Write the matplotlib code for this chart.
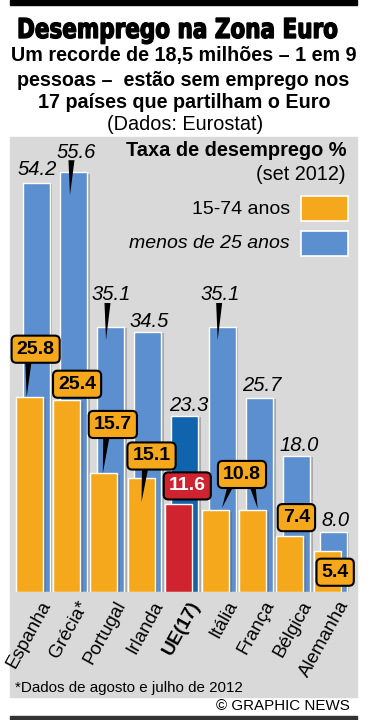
import matplotlib
matplotlib.use('Agg')
import numpy as np
import matplotlib.pyplot as plt
import matplotlib.patheffects as pe
from matplotlib.patches import Rectangle, Polygon, PathPatch
from matplotlib.textpath import TextPath
from matplotlib.font_manager import FontProperties
from matplotlib.transforms import Affine2D

plt.rcParams['font.family'] = ['Liberation Sans', 'DejaVu Sans']

# data (Eurostat, set 2012)
countries = ['Espanha', 'Grécia*', 'Portugal', 'Irlanda', 'UE(17)', 'Itália', 'França', 'Bélgica', 'Alemanha']
rate_15_74 = [25.8, 25.4, 15.7, 15.1, 11.6, 10.8, 10.8, 7.4, 5.4]
rate_under_25 = [54.2, 55.6, 35.1, 34.5, 23.3, 35.1, 25.7, 18.0, 8.0]
eu_index = 4

ORANGE = '#f6a81d'
BLUE = '#5b8fcf'
DARK_BLUE = '#1063ad'
RED = '#cf2330'
PANEL = '#d9d9d9'

W, H = 371, 720
fig = plt.figure(figsize=(W / 100, H / 100), dpi=100)

# background / pixel space
bg = fig.add_axes([0, 0, 1, 1])
bg.set_xlim(0, W)
bg.set_ylim(H, 0)
bg.axis('off')

bg.add_patch(Rectangle((10, 0), 347, 4.5, color='black'))
bg.add_patch(Rectangle((10, 137), 347, 560, color=PANEL))
bg.add_patch(Rectangle((10, 716), 347, 4, color='#333333'))

# condensed heavy title drawn as a squeezed text path
fp = FontProperties(family='DejaVu Sans', weight='bold')
tp = TextPath((0, 0), 'Desemprego na Zona Euro', size=100, prop=fp)
ext = tp.get_extents()
sx = 318 / ext.width
sy = 20 / 72.9
tr = Affine2D().translate(-ext.x0, 0).scale(sx, -sy).translate(19, 38) + bg.transData
bg.add_patch(PathPatch(tp, transform=tr, fc='black', ec='black', lw=1.0))

sub_kw = dict(ha='center', va='center', fontsize=14.2, fontweight='bold', color='black')
bg.text(183.5, 56, 'Um recorde de 18,5 milhões – 1 em 9', **sub_kw)
bg.text(183.5, 80, 'pessoas –  estão sem emprego nos', **sub_kw)
bg.text(184, 103, '17 países que partilham o Euro', **sub_kw)
bg.text(185, 124, '(Dados: Eurostat)', ha='center', va='center', fontsize=14.3)

# legend
bg.text(346, 151, 'Taxa de desemprego %', ha='right', va='center', fontsize=14.4, fontweight='bold')
bg.text(346, 174, '(set 2012)', ha='right', va='center', fontsize=14.3)
bg.text(290, 209, '15-74 anos', ha='right', va='center', fontsize=14.0)
bg.text(290, 244, 'menos de 25 anos', ha='right', va='center', fontsize=14.0, style='italic')
bg.add_patch(Rectangle((301, 196), 47, 25, fc=ORANGE, ec='white', lw=1.2))
bg.add_patch(Rectangle((301, 231), 47, 25, fc=BLUE, ec='white', lw=1.2))

bg.text(15, 688, '*Dados de agosto e julho de 2012', ha='left', va='center', fontsize=10.9)
bg.text(350, 706, '© GRAPHIC NEWS', ha='right', va='center', fontsize=10.9)

# bars
ax = fig.add_axes([14.1 / W, (H - 592) / H, 335 / W, 453 / H])
ax.set_xlim(-0.5, 8.5)
ax.set_ylim(0, 60)
ax.axis('off')

x = np.arange(len(countries))
off = 0.09
width = 0.726
blue_cols = [DARK_BLUE if i == eu_index else BLUE for i in x]
orange_cols = [RED if i == eu_index else ORANGE for i in x]
shadow = [pe.SimplePatchShadow(offset=(2, -1), shadow_rgbFace='#555555', alpha=0.35), pe.Normal()]
bb = ax.bar(x + off, rate_under_25, width, color=blue_cols, edgecolor='white', linewidth=1.0, zorder=1)
bo = ax.bar(x - off, rate_15_74, width, color=orange_cols, edgecolor='white', linewidth=1.0, zorder=2)
for p in list(bb) + list(bo):
    p.set_path_effects(shadow)

# overlay for labels in pixel space
ov = fig.add_axes([0, 0, 1, 1])
ov.set_xlim(0, W)
ov.set_ylim(H, 0)
ov.axis('off')


def to_px(xv, yv):
    d = ax.transData.transform((xv, yv))
    return ov.transData.inverted().transform(d)


def wedge(bx, by, tx, ty, half=3.5):
    ov.add_patch(Polygon([(bx - half, by), (bx + half, by), (tx, ty)], closed=True,
                         fc='black', ec='none', zorder=3))


# label layout: (dx, dy up from bar top, pointer tip (dx, dy) or None), pixels
blue_layout = [(1.5, 13, None), (3.4, 20, (-3.3, -23)), (0.5, 32, (-4.5, -13)), (1.5, 10.5, None),
               (4, 11, None), (-1.5, 32, (-4.5, -13)), (2.5, 12, None), (2.5, 11, None), (2, 11.5, None)]
# (dx, dy, tip or None, base x offset from box centre, draw text)
orange_layout = [(6.3, 48, (-2.7, 0), -7, True), (10.5, 16, None, 0, True), (9, 49, (-1, 0), -6, True),
                 (10.5, 22, (0.5, -24), -6, True), (9, 18.5, None, 0, True), (26.5, 36, (6.5, 2.5), -10, True),
                 (-11, 36, (5, 2), 10, False), (6.5, 18.5, None, 0, True), (8, -21, None, 0, True)]

for i, v in enumerate(rate_under_25):
    px, py = to_px(x[i] + off, v)
    dx, dy, tip = blue_layout[i]
    cx, cy = px + dx, py - dy
    ov.text(cx, cy, f'{v:.1f}', ha='center', va='center', fontsize=14.5, style='italic', zorder=4)
    if tip is not None:
        tx, ty = px + tip[0], py - tip[1]
        wedge(tx + 1.5, cy + 8, tx, ty, half=3)

for i, v in enumerate(rate_15_74):
    px, py = to_px(x[i] - off, v)
    dx, dy, tip, bdx, show = orange_layout[i]
    cx, cy = px + dx, py - dy
    if tip is not None:
        tx, ty = px + tip[0], py - tip[1]
        wedge(cx + bdx, cy + 8, tx, ty)
    if show:
        fc = RED if i == eu_index else ORANGE
        tc = 'white' if i == eu_index else 'black'
        ov.text(cx, cy, f'{v:.1f}', ha='center', va='center', fontsize=14, fontweight='bold', color=tc,
                zorder=5, bbox=dict(boxstyle='round,pad=0.26,rounding_size=0.25', fc=fc, ec='black', lw=1.5))

# category labels
for i, name in enumerate(countries):
    px, py = to_px(x[i], 0)
    ov.text(px + 7, py + 6, name, rotation=61, rotation_mode='anchor', ha='right', va='top',
            fontsize=13.5, fontweight='bold' if i == eu_index else 'normal')

fig.savefig('out.png', dpi=100)
